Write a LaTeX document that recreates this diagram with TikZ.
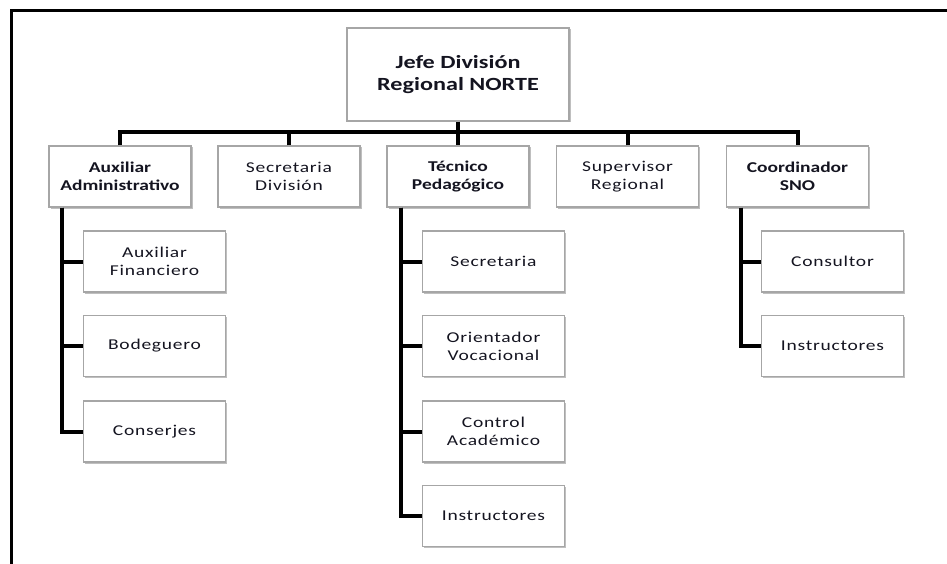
\documentclass[tikz,border=0pt]{standalone}
\usepackage{fontspec}
\setmainfont{Carlito}[FakeStretch=1.3]
\newfontfamily\spacedfont{Carlito}[FakeStretch=1.3,LetterSpace=5]
\usetikzlibrary{shadows}
\definecolor{boxgray}{HTML}{A6A6A6}
\definecolor{txt}{HTML}{141420}
\tikzset{
  orgbox/.style={draw=boxgray, line width=1.2pt, fill=white, minimum width=142pt, minimum height=61pt,
    align=center, inner sep=0pt, text=txt,
    drop shadow={shadow xshift=1.5pt, shadow yshift=-1.5pt, fill=black, opacity=0.25}},
  bbox/.style={orgbox, font=\fontsize{15}{18}\selectfont\bfseries},
  rbox/.style={orgbox, font=\fontsize{15}{18}\spacedfont},
  conn/.style={draw=black, line width=4pt},
}
\begin{document}
\begin{tikzpicture}[x=1pt,y=-1pt]
\useasboundingbox (0,0) rectangle (947,564);
\draw[line width=3pt] (11,564) -- (11,11) -- (947,11);

\node[orgbox, minimum width=222pt, minimum height=93pt, font=\fontsize{18.6}{22}\selectfont\bfseries] (top) at (458,74.5) {Jefe División\\Regional NORTE};

\node[bbox] (aa) at (120,176.5) {Auxiliar\\Administrativo};
\node[rbox] (sd) at (289,176.5) {Secretaria\\División};
\node[bbox] (tp) at (458,176.5) {Técnico\\Pedagógico};
\node[rbox] (sr) at (627.5,176.5) {Supervisor\\Regional};
\node[bbox] (co) at (797.5,176.5) {Coordinador\\SNO};

\node[rbox] (af) at (154.5,261.5) {Auxiliar\\Financiero};
\node[rbox] (bo) at (154.5,346) {Bodeguero};
\node[rbox] (cs) at (154.5,431.5) {Conserjes};

\node[rbox] (se) at (493.5,261.5) {Secretaria};
\node[rbox] (ov) at (493.5,346) {Orientador\\Vocacional};
\node[rbox] (ca) at (493.5,431.5) {Control\\Académico};
\node[rbox] (in) at (493.5,516) {Instructores};

\node[rbox] (cn) at (832.5,261.5) {Consultor};
\node[rbox] (ci) at (832.5,346) {Instructores};

% top-level bus
\draw[conn] (top.south) -- (tp.north);
\draw[conn] (aa.north) -- ++(0,-13) -| (co.north);
\draw[conn] (sd.north) -- ++(0,-13);
\draw[conn] (sr.north) -- ++(0,-13);

% subordinate branches
\coordinate (aaL) at ([xshift=14pt]aa.south west);
\draw[conn] (aaL) |- (af.west);
\draw[conn] (aaL) |- (bo.west);
\draw[conn] (aaL) |- (cs.west);

\coordinate (tpL) at ([xshift=15pt]tp.south west);
\draw[conn] (tpL) |- (se.west);
\draw[conn] (tpL) |- (ov.west);
\draw[conn] (tpL) |- (ca.west);
\draw[conn] (tpL) |- (in.west);

\coordinate (coL) at ([xshift=15pt]co.south west);
\draw[conn] (coL) |- (cn.west);
\draw[conn] (coL) |- (ci.west);
\end{tikzpicture}
\end{document}
